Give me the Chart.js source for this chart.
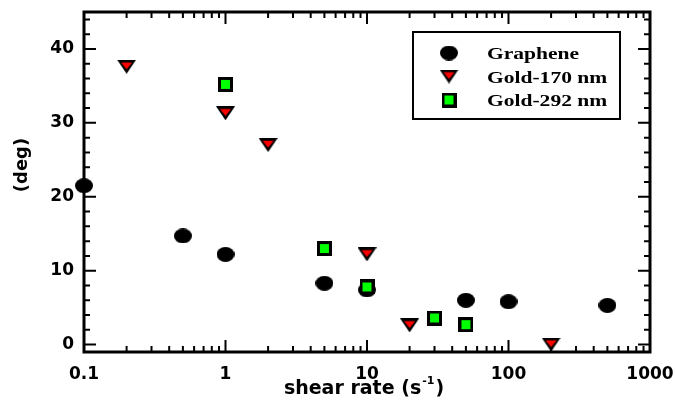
<!DOCTYPE html>
<html>
<head>
<meta charset="utf-8">
<script src="https://cdn.jsdelivr.net/npm/chart.js@4.4.0/dist/chart.umd.min.js"></script>
<style>
    html, body { margin: 0; padding: 0; background: #fff; }
</style>
</head>
<body>
<canvas id="chart" width="675" height="408"></canvas>
<script>
// data
const seriesNames = ['Graphene', 'Gold-170 nm', 'Gold-292 nm'];

const grapheneX = [0.1, 0.5, 1, 5, 10, 50, 100, 500];
const grapheneY = [21.5, 14.7, 12.2, 8.3, 7.4, 6.0, 5.8, 5.3];

const gold170X = [0.2, 1, 2, 10, 20, 200];
const gold170Y = [37.6, 31.3, 27.0, 12.2, 2.6, 0.0];

const gold292X = [1, 5, 10, 30, 50];
const gold292Y = [35.2, 13.0, 7.8, 3.6, 2.7];

const xTicks = [0.1, 1, 10, 100, 1000];
const xTickLabels = ['0.1', '1', '10', '100', '1000'];
const yTicks = [0, 10, 20, 30, 40];

const tickFont = { family: 'DejaVu Sans', weight: 'bold', size: 17 };

// markers as small canvases
function makeMarker(kind) {
    const c = document.createElement('canvas');
    const g = c.getContext('2d');
    if (kind === 'circle') {
        c.width = 18; c.height = 15;
        g.fillStyle = '#000';
        g.beginPath(); g.ellipse(9, 7.5, 9, 7.5, 0, 0, Math.PI * 2); g.fill();
    } else if (kind === 'triangle') {
        c.width = 19; c.height = 14;
        g.fillStyle = '#000';
        g.beginPath(); g.moveTo(0, 0); g.lineTo(19, 0); g.lineTo(9.5, 14); g.closePath(); g.fill();
        g.fillStyle = '#ff0000';
        g.beginPath(); g.moveTo(4, 2.8); g.lineTo(15, 2.8); g.lineTo(9.5, 9.4); g.closePath(); g.fill();
    } else {
        c.width = 15; c.height = 15;
        g.fillStyle = '#000';
        g.fillRect(0, 0, 15, 15);
        g.fillStyle = '#00ff00';
        g.fillRect(3, 3, 9, 9);
    }
    return c;
}
const markers = [makeMarker('circle'), makeMarker('triangle'), makeMarker('square')];

function toPoints(xs, ys) {
    return xs.map((x, i) => ({ x: x, y: ys[i] }));
}

// frame with inward ticks on all four sides
const framePlugin = {
    id: 'frame',
    beforeDatasetsDraw(chart) {
        const { ctx, chartArea, scales } = chart;
        const { left, right, top, bottom } = chartArea;
        ctx.save();
        ctx.strokeStyle = '#000';
        ctx.lineWidth = 2;
        ctx.beginPath();
        for (let d = 0.1; d < 1000; d *= 10) {
            for (let m = 1; m <= 9; m++) {
                const px = scales.x.getPixelForValue(d * m);
                const len = m === 1 ? 12 : 6;
                ctx.moveTo(px, bottom); ctx.lineTo(px, bottom - len);
                ctx.moveTo(px, top); ctx.lineTo(px, top + len);
            }
        }
        for (let v = 0; v <= 44; v += 2) {
            const py = scales.y.getPixelForValue(v);
            const len = v % 10 === 0 ? 12 : 6;
            ctx.moveTo(left, py); ctx.lineTo(left + len, py);
            ctx.moveTo(right, py); ctx.lineTo(right - len, py);
        }
        ctx.stroke();
        ctx.lineWidth = 3;
        ctx.strokeRect(left, top, right - left, bottom - top);

        // axis titles
        ctx.fillStyle = '#000';
        ctx.textBaseline = 'alphabetic';
        const main = 'shear rate (s';
        const sup = '-1';
        ctx.font = 'bold 19px "DejaVu Sans"';
        const w1 = ctx.measureText(main).width;
        const w3 = ctx.measureText(')').width;
        ctx.font = 'bold 11px "DejaVu Sans"';
        const w2 = ctx.measureText(sup).width;
        let tx = (left + right) / 2 - 3 - (w1 + w2 + w3 + 2) / 2;
        const ty = 394;
        ctx.font = 'bold 19px "DejaVu Sans"';
        ctx.textAlign = 'left';
        ctx.fillText(main, tx, ty);
        ctx.font = 'bold 11px "DejaVu Sans"';
        ctx.fillText(sup, tx + w1 + 1, ty - 10);
        ctx.font = 'bold 19px "DejaVu Sans"';
        ctx.fillText(')', tx + w1 + w2 + 2, ty);

        ctx.translate(22, 165);
        ctx.rotate(-Math.PI / 2);
        ctx.font = 'bold 18px "DejaVu Sans"';
        ctx.textAlign = 'center';
        ctx.textBaseline = 'middle';
        ctx.fillText('(deg)', 0, 0);
        ctx.restore();
    },
    afterDraw(chart) {
        // legend box in the upper right
        const ctx = chart.ctx;
        ctx.save();
        ctx.fillStyle = '#fff';
        ctx.fillRect(413, 32, 207, 87);
        ctx.strokeStyle = '#000';
        ctx.lineWidth = 2;
        ctx.strokeRect(413, 32, 207, 87);
        ctx.fillStyle = '#000';
        ctx.font = 'bold 17.5px "Liberation Serif"';
        ctx.textBaseline = 'alphabetic';
        seriesNames.forEach((name, i) => {
            const cy = 53 + i * 23.5;
            const img = markers[i];
            ctx.drawImage(img, 449 - img.width / 2, cy - img.height / 2);
            ctx.save();
            ctx.translate(487, cy + 6);
            ctx.scale(1.23, 1);
            ctx.fillText(name, 0, 0);
            ctx.restore();
        });
        ctx.restore();
    }
};

new Chart(document.getElementById('chart'), {
    type: 'scatter',
    data: {
        datasets: [
            { label: seriesNames[0], data: toPoints(grapheneX, grapheneY), pointStyle: markers[0], pointRadius: 8, order: 3, clip: false },
            { label: seriesNames[1], data: toPoints(gold170X, gold170Y), pointStyle: markers[1], pointRadius: 8, order: 2, clip: false },
            { label: seriesNames[2], data: toPoints(gold292X, gold292Y), pointStyle: markers[2], pointRadius: 8, order: 1, clip: false }
        ]
    },
    options: {
        responsive: false,
        animation: false,
        events: [],
        layout: { padding: { top: 12, right: 25, left: 0, bottom: 0 } },
        plugins: { legend: { display: false }, tooltip: { enabled: false } },
        scales: {
            x: {
                type: 'logarithmic',
                min: 0.1,
                max: 1000,
                grid: { display: false, drawTicks: false },
                border: { display: false },
                afterBuildTicks: axis => { axis.ticks = xTicks.map(v => ({ value: v })); },
                afterFit: axis => { axis.height = 56; axis.paddingLeft = 0; axis.paddingRight = 0; },
                ticks: {
                    color: '#000',
                    font: tickFont,
                    padding: 12,
                    maxRotation: 0,
                    autoSkip: false,
                    callback: (v, i) => xTickLabels[i]
                }
            },
            y: {
                min: -1,
                max: 45,
                grid: { display: false, drawTicks: false },
                border: { display: false },
                afterBuildTicks: axis => { axis.ticks = yTicks.map(v => ({ value: v })); },
                afterFit: axis => { axis.width = 84; axis.paddingTop = 0; axis.paddingBottom = 0; },
                ticks: { color: '#000', font: tickFont, padding: 10 }
            }
        }
    },
    plugins: [framePlugin]
});
</script>
</body>
</html>
